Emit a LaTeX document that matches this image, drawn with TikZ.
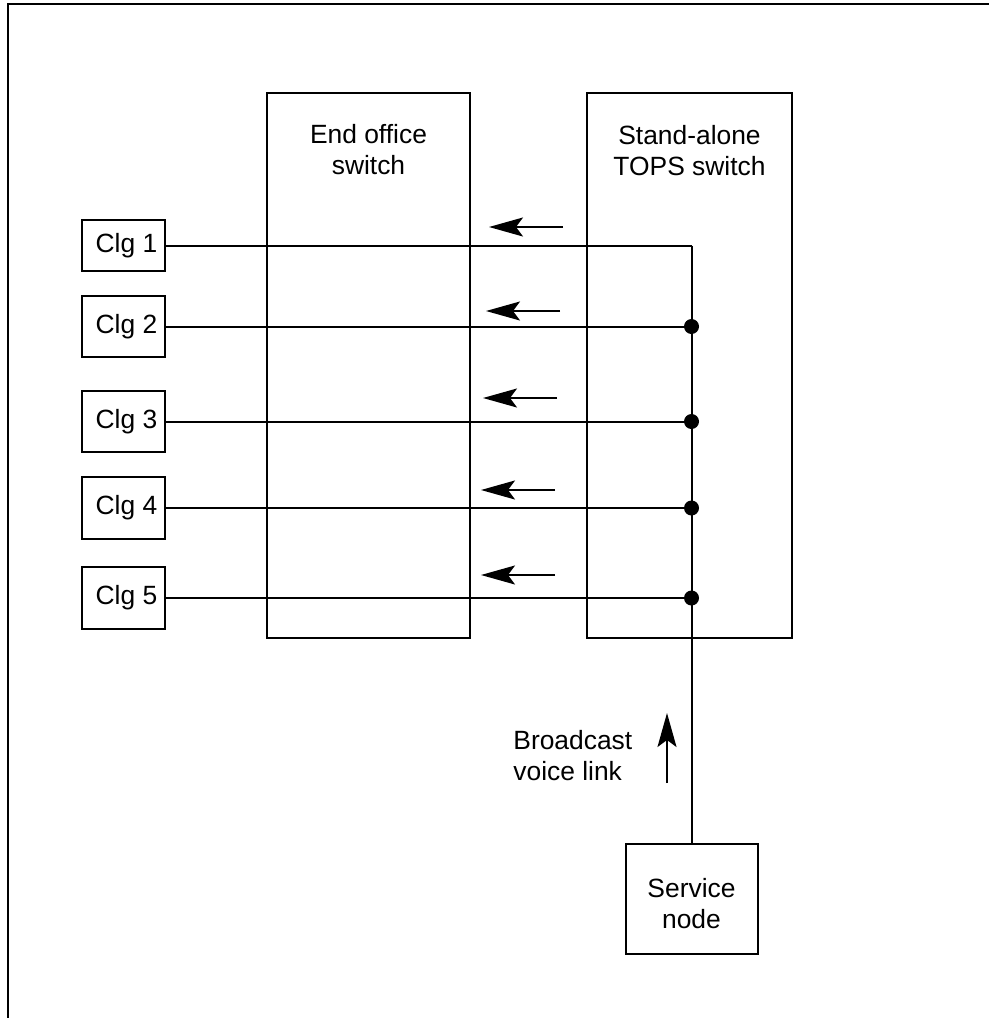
\documentclass[tikz,border=0pt]{standalone}
\usepackage{fontspec}
\setmainfont{Liberation Sans}
\usetikzlibrary{arrows.meta,positioning}

\tikzset{
	plain/.style={line width=1pt},
	clgbox/.style={draw, plain, rectangle, minimum width=41.5pt, inner sep=0pt},
	switchbox/.style={draw, plain, rectangle, minimum height=272.5pt, inner sep=0pt},
	boxlabel/.style={anchor=north, inner sep=0pt, align=center},
	flow/.style={plain, -{Stealth[length=17pt, width=9.5pt, inset=3.5pt]}},
	tapdot/.style={circle, fill=black, inner sep=0pt, minimum size=7.5pt}
}

\begin{document}
\begin{tikzpicture}[x=0.5pt, y=-0.5pt, font=\fontsize{13.2}{15.5}\selectfont]
		\useasboundingbox (0,0) rectangle (989,1018);
		\def \busx {691.5}
		
		% frame
		\draw[plain] (8,1018) -- (8,4) -- (989,4);
		
		% the two switches
		\node[switchbox, minimum width=101.5pt] (eo) at (368.5,365.5) {};
		\node[boxlabel, below=16pt of eo.north] (eolabel) {End office\\switch};
		\node[switchbox, minimum width=102.5pt] (tops) at (689.5,365.5) {};
		\node[boxlabel, below=16.5pt of tops.north] (topslabel) {Stand-alone\\TOPS switch};
		
		% service node and the broadcast voice link
		\node[draw, plain, minimum width=66pt, minimum height=55pt] (sn) at (\busx,899) {};
		\node[boxlabel, below=17.5pt of sn.north] (snlabel) {Service\\node};
		\node[anchor=north west, inner sep=0pt, align=left] (bvl) at (513,730) {Broadcast\\voice link};
		\coordinate (upfrom) at (667,783);
		\coordinate (upto) at (667,713);
		\draw[flow] (upfrom) -- (upto);
		
		% calling parties
		\foreach \i/\y/\h/\ax/\ay in {1/245.5/51/563/227, 2/326.5/61/560/311, 3/421.5/61/557/398, 4/508/62/555/490, 5/598/62/555/575}
		{
			\node[clgbox, minimum height=\h*0.5pt] (clg\i) at (123.5,\y) {\hspace*{3pt}Clg \i};
			\coordinate (tap\i) at (\busx,\y);
			\draw[plain] (clg\i) -- (tap\i);
			\coordinate (from\i) at (\ax,\ay);
			\coordinate (to\i) at (\ax-74,\ay);
			\draw[flow] (from\i) -- (to\i);
		}
		\foreach \i in {2,...,5}
			\node[tapdot] (dot\i) at (tap\i) {};
		\draw[plain] (tap1) -- (sn.north);
		\end{tikzpicture}
\end{document}
